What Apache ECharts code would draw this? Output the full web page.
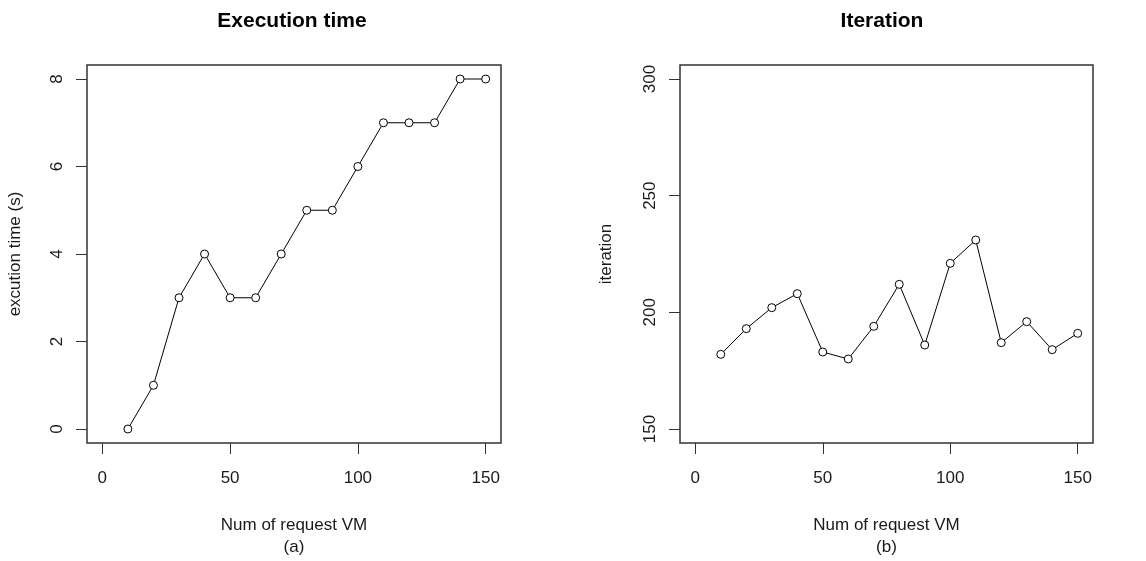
<!DOCTYPE html>
<html>
<head>
<meta charset="utf-8">
<script src="https://cdn.jsdelivr.net/npm/echarts@6/dist/echarts.min.js"></script>
<style>
  html, body { margin: 0; padding: 0; background: #fff; }
  #chart { width: 1146px; height: 561px; }
</style>
</head>
<body>
<div id="chart"></div>
<script>
const vmCounts = [10, 20, 30, 40, 50, 60, 70, 80, 90, 100, 110, 120, 130, 140, 150];
const execTime = [0, 1, 3, 4, 3, 3, 4, 5, 5, 6, 7, 7, 7, 8, 8];
const iterations = [182, 193, 202, 208, 183, 180, 194, 212, 186, 221, 231, 187, 196, 184, 191];
const xTicks = [0, 50, 100, 150];
const execTicks = [0, 2, 4, 6, 8];
const iterTicks = [150, 200, 250, 300];

const chart = echarts.init(document.getElementById("chart"));
const FONT = "'Liberation Sans', Arial, sans-serif";
const INK = "#1a1a1a";

function xAxisFor(gridIndex, name) {
  return {
    gridIndex: gridIndex,
    type: "value",
    min: -6,
    max: 156,
    name: name,
    nameLocation: "middle",
    nameGap: 71,
    nameTextStyle: { fontFamily: FONT, fontSize: 17, color: INK, lineHeight: 22 },
    axisLine: { show: false, onZero: false },
    splitLine: { show: false },
    axisTick: { show: true, customValues: xTicks, length: 11, lineStyle: { color: "#333", width: 1 } },
    axisLabel: { customValues: xTicks, margin: 27, fontFamily: FONT, fontSize: 17, color: INK },
  };
}

function yAxisFor(gridIndex, name, min, max, ticks, gap) {
  return {
    gridIndex: gridIndex,
    type: "value",
    min: min,
    max: max,
    name: name,
    nameLocation: "middle",
    nameGap: gap,
    nameRotate: 90,
    nameTextStyle: { fontFamily: FONT, fontSize: 17, color: INK },
    axisLine: { show: false, onZero: false },
    splitLine: { show: false },
    axisTick: { show: true, customValues: ticks, length: 11, lineStyle: { color: "#333", width: 1 } },
    axisLabel: { customValues: ticks, rotate: 90, margin: 21, fontFamily: FONT, fontSize: 17, color: INK },
  };
}

function lineSeries(idx, data) {
  return {
    type: "line",
    xAxisIndex: idx,
    yAxisIndex: idx,
    data: vmCounts.map((v, i) => [v, data[i]]),
    symbol: "circle",
    symbolSize: 8,
    showAllSymbol: true,
    lineStyle: { color: "#000", width: 1 },
    itemStyle: { color: "#fff", borderColor: "#000", borderWidth: 1 },
    emphasis: { disabled: true },
  };
}

chart.setOption({
  animation: false,
  backgroundColor: "#fff",
  title: [
    { text: "Execution time", left: 287, top: 6, textAlign: "center",
      textStyle: { fontFamily: FONT, fontSize: 21, fontWeight: "bold", color: "#000" } },
    { text: "Iteration", left: 877, top: 6, textAlign: "center",
      textStyle: { fontFamily: FONT, fontSize: 21, fontWeight: "bold", color: "#000" } },
  ],
  grid: [
    { left: 87, top: 65, width: 414, height: 378, show: true, borderColor: "#333", borderWidth: 1.5,
      backgroundColor: "transparent", containLabel: false, outerBoundsMode: "none" },
    { left: 680, top: 65, width: 413, height: 378, show: true, borderColor: "#333", borderWidth: 1.5,
      backgroundColor: "transparent", containLabel: false, outerBoundsMode: "none" },
  ],
  xAxis: [
    xAxisFor(0, "Num of request VM\n(a)"),
    xAxisFor(1, "Num of request VM\n(b)"),
  ],
  yAxis: [
    yAxisFor(0, "excution time (s)", -0.32, 8.32, execTicks, 63),
    yAxisFor(1, "iteration", 144, 306, iterTicks, 65),
  ],
  series: [
    lineSeries(0, execTime),
    lineSeries(1, iterations),
  ],
});
</script>
</body>
</html>
